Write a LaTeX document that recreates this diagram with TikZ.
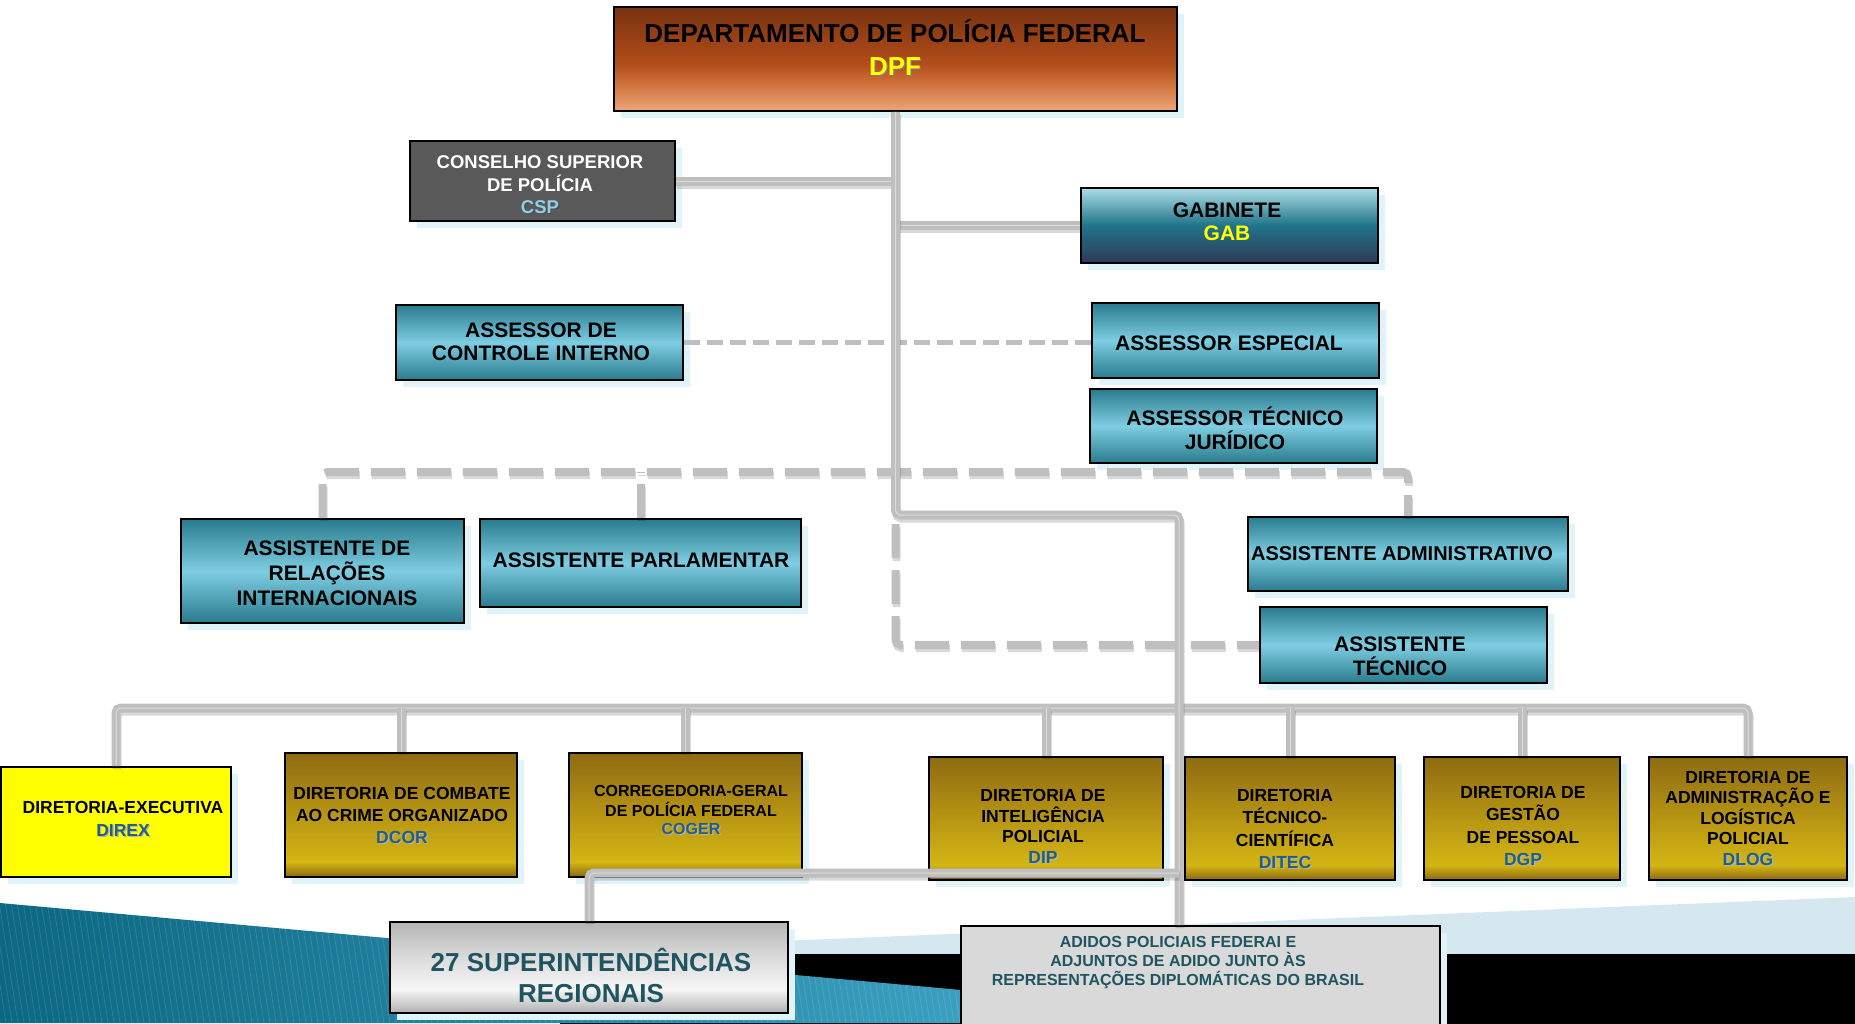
\documentclass[tikz,border=0pt]{standalone}
\usepackage{fontspec}
\setmainfont{Liberation Sans}
\definecolor{tealD}{HTML}{2A7B8E}
\definecolor{tealL}{HTML}{7ECDE2}
\definecolor{shadowc}{HTML}{DFF3F8}
\definecolor{connc}{HTML}{BFBFBF}
\definecolor{acr}{HTML}{24607E}
\definecolor{suptxt}{HTML}{1E5560}
\definecolor{cspgray}{HTML}{595959}
\definecolor{csptxt}{HTML}{8FD0E6}
\definecolor{lightbg}{HTML}{D5E8EF}
\definecolor{tealbgL}{HTML}{0B6782}
\definecolor{tealbgR}{HTML}{4DB4D8}
\definecolor{adbox}{HTML}{D9D9D9}
\definecolor{yel}{HTML}{FFFF00}
\definecolor{gA}{HTML}{8A6810}
\definecolor{gB}{HTML}{D3B514}
\definecolor{gC}{HTML}{C4A314}
\definecolor{gD}{HTML}{8E6B12}
\definecolor{gabA}{HTML}{2E3A58}
\definecolor{gabB}{HTML}{1F7489}
\definecolor{gabC}{HTML}{ADDDE8}
\definecolor{dpfA}{HTML}{EEA57A}
\definecolor{dpfB}{HTML}{D47A45}
\definecolor{dpfC}{HTML}{B24C1A}
\definecolor{dpfD}{HTML}{773310}
\definecolor{supA}{HTML}{B0B0B0}
\definecolor{supB}{HTML}{F6F6F6}
\definecolor{supC}{HTML}{DCDCDC}
\definecolor{supD}{HTML}{B5B5B5}
\pgfdeclareverticalshading{goldsh}{100bp}{color(0bp)=(gA); color(25bp)=(gA); color(31bp)=(gB); color(42bp)=(gC); color(75bp)=(gD); color(100bp)=(gD)}
\pgfdeclareverticalshading{gabsh}{100bp}{color(0bp)=(gabA); color(25bp)=(gabA); color(50bp)=(gabB); color(75bp)=(gabC); color(100bp)=(gabC)}
\pgfdeclareverticalshading{dpfsh}{100bp}{color(0bp)=(dpfA); color(25bp)=(dpfA); color(36bp)=(dpfB); color(48bp)=(dpfC); color(75bp)=(dpfD); color(100bp)=(dpfD)}
\pgfdeclareverticalshading{supsh}{100bp}{color(0bp)=(supA); color(25bp)=(supA); color(38bp)=(supB); color(55bp)=(supC); color(75bp)=(supD); color(100bp)=(supD)}
\newcommand\fs[1]{\fontsize{#1}{#1}\selectfont}
\newcommand\shd[3]{{\color{#2}\rlap{\kern1.3pt\raisebox{-1.3pt}{#3}}}{\color{#1}#3}}
\newcommand\obox[6]{%
  \fill[shadowc] ({#2+7},{#3+7}) rectangle ({#4+7},{#5+7});
  \node[#6, minimum width={(#4)-(#2)}, minimum height={(#5)-(#3)}] (#1) at ({(#2+#4)/2},{(#3+#5)/2}) {};
}
\tikzset{
  box/.style={draw=black, line width=1.8pt, inner sep=0pt},
  tealbox/.style={box, top color=tealD, bottom color=tealD, middle color=tealL},
  goldbox/.style={box, shade, shading=goldsh},
  txt/.style={anchor=base, inner sep=0pt, align=center},
  conn/.style={draw=connc, line width=9pt, rounded corners=5pt,
    preaction={draw=black, draw opacity=0.15, line width=9pt, transform canvas={shift={(1pt,-3pt)}}},
    postaction={draw=white, draw opacity=0.45, line width=1pt}},
  dconn/.style={draw=connc, line width=8pt, rounded corners=5pt, dash pattern=on 34pt off 12pt,
    preaction={draw=black, draw opacity=0.15, line width=8pt, dash pattern=on 34pt off 12pt, transform canvas={shift={(1pt,-3pt)}}}},
  fconn/.style={draw=connc, line width=5pt, dash pattern=on 16pt off 7pt},
}
\begin{document}
\begin{tikzpicture}[x=1pt,y=-1pt]
\useasboundingbox (0,0) rectangle (1855,1023);
\clip (0,0) rectangle (1855,1023);
% background
\fill[white] (0,0) rectangle (1855,1023);
\fill[lightbg] (560,950) -- (1855,897) -- (1855,956) -- (560,956) -- cycle;
\fill[black] (560,954) rectangle (1855,1024);
\shade[left color=tealbgL, right color=tealbgR] (0,903) -- (1326,1023) -- (0,1023) -- cycle;
\begin{scope}
  \clip (0,903) -- (1326,1023) -- (0,1023) -- cycle;
  \foreach \i in {0,6,...,1340} \draw[white, opacity=0.12, line width=0.8pt] (\i-20,895) -- (\i,1023);
\end{scope}

% boxes
\obox{dpf}{614}{7}{1177}{111}{box, shade, shading=dpfsh}
\obox{csp}{410}{141}{675}{221}{box, fill=cspgray}
\obox{gab}{1081}{188}{1378}{263}{box, shade, shading=gabsh}
\obox{aci}{396}{305}{683}{380}{tealbox}
\obox{ae}{1092}{303}{1379}{378}{tealbox}
\obox{atj}{1090}{389}{1377}{463}{tealbox}
\obox{ari}{181}{519}{464}{623}{tealbox}
\obox{apar}{480}{519}{801}{607}{tealbox}
\obox{aadm}{1248}{517}{1568}{591}{tealbox}
\obox{atec}{1260}{607}{1547}{683}{tealbox}
\obox{direx}{1}{767}{231}{877}{box, fill=yel}
\obox{dcor}{285}{753}{517}{877}{goldbox}
\obox{coger}{569}{753}{802}{877}{goldbox}
\obox{dip}{929}{757}{1163}{880}{goldbox}
\obox{ditec}{1185}{757}{1395}{880}{goldbox}
\obox{dgp}{1424}{757}{1620}{880}{goldbox}
\obox{dlog}{1649}{757}{1847}{880}{goldbox}
\obox{sup}{390}{922}{788}{1013}{box, shade, shading=supsh}
\obox{adidos}{961}{926}{1440}{1040}{box, fill=adbox}

% connectors
\coordinate (kA) at (1179,515);
\coordinate (kB) at (895.5,524);
\coordinate (kC) at (1179,873);
\coordinate (bus2) at (0,472);
\coordinate (bus3) at (0,708);
\draw[conn] (csp.east) -- (csp.east -| dpf.south);
\draw[conn] (gab.west) -- (gab.west -| dpf.south);
\draw[fconn] (aci.east) -- (aci.east -| ae.west);
\draw[dconn] (ari.north) |- (bus2 -| aadm.north) -- (aadm.north);
\draw[dconn] (apar.north) -- (apar.north |- bus2);
\draw[dconn] (kB) |- (atec.west);
\draw[conn] (direx.north) |- (bus3 -| dlog.north) -- (dlog.north);
\foreach \n in {dcor,coger,dip,ditec,dgp} \draw[conn] (\n.north) -- (\n.north |- bus3);
\draw[conn] (dpf.south) |- (kA) -- (kA |- adidos.north);
\draw[conn] (sup.north) |- (kC);

% texts
\node[txt, font=\bfseries\fs{26}] (t1) at (895,42) {DEPARTAMENTO DE POLÍCIA FEDERAL};
\node[txt, font=\bfseries\fs{26}] (t2) at (895,75) {\shd{yel}{gray}{DPF}};
\node[txt, font=\bfseries\fs{18.5}, text=white] (t3) at (540,168.6) {CONSELHO SUPERIOR};
\node[txt, font=\bfseries\fs{18.5}, text=white] (t4) at (540,191.6) {DE POLÍCIA};
\node[txt, font=\bfseries\fs{18.5}] (t5) at (540,213.6) {\shd{csptxt}{black!70}{CSP}};
\node[txt, font=\bfseries\fs{21}] (t6) at (1227,217.5) {GABINETE};
\node[txt, font=\bfseries\fs{21}, text=yel] (t7) at (1227,240.5) {GAB};
\node[txt, font=\bfseries\fs{21}] (t8) at (541,337.5) {ASSESSOR DE};
\node[txt, font=\bfseries\fs{21}] (t9) at (541,360.5) {CONTROLE INTERNO};
\node[txt, font=\bfseries\fs{21}] (t10) at (1229,350.5) {ASSESSOR ESPECIAL};
\node[txt, font=\bfseries\fs{21}] (t11) at (1235,425.5) {ASSESSOR TÉCNICO};
\node[txt, font=\bfseries\fs{21}] (t12) at (1235,449.5) {JURÍDICO};
\node[txt, font=\bfseries\fs{21}] (t13) at (327,555.5) {ASSISTENTE DE};
\node[txt, font=\bfseries\fs{21}] (t14) at (327,580.5) {RELAÇÕES};
\node[txt, font=\bfseries\fs{21}] (t15) at (327,605.5) {INTERNACIONAIS};
\node[txt, font=\bfseries\fs{21}] (t16) at (641,567.5) {ASSISTENTE PARLAMENTAR};
\node[txt, font=\bfseries\fs{20}] (t17) at (1402,560) {ASSISTENTE ADMINISTRATIVO};
\node[txt, font=\bfseries\fs{21}] (t18) at (1400,651.5) {ASSISTENTE};
\node[txt, font=\bfseries\fs{21}] (t19) at (1400,675.5) {TÉCNICO};
% directorates
\node[txt, font=\bfseries\fs{17.5}] (t20) at (123,813) {DIRETORIA-EXECUTIVA};
\node[txt, font=\bfseries\fs{17.5}] (t21) at (123,836) {\shd{acr}{black!30}{DIREX}};
\node[txt, font=\bfseries\fs{17.5}] (t22) at (402,799) {DIRETORIA DE COMBATE};
\node[txt, font=\bfseries\fs{17.5}] (t23) at (402,821) {AO CRIME ORGANIZADO};
\node[txt, font=\bfseries\fs{17.5}] (t24) at (402,843) {\shd{acr}{black!30}{DCOR}};
\node[txt, font=\bfseries\fs{16}] (t25) at (691,796) {CORREGEDORIA-GERAL};
\node[txt, font=\bfseries\fs{16}] (t26) at (691,816) {DE POLÍCIA FEDERAL};
\node[txt, font=\bfseries\fs{16}] (t27) at (691,834) {\shd{acr}{black!30}{COGER}};
\node[txt, font=\bfseries\fs{17.5}] (t28) at (1043,801) {DIRETORIA DE};
\node[txt, font=\bfseries\fs{17.5}] (t29) at (1043,822) {INTELIGÊNCIA};
\node[txt, font=\bfseries\fs{17.5}] (t30) at (1043,842) {POLICIAL};
\node[txt, font=\bfseries\fs{17.5}] (t31) at (1043,863) {\shd{acr}{black!30}{DIP}};
\node[txt, font=\bfseries\fs{17.5}] (t32) at (1285,801) {DIRETORIA};
\node[txt, font=\bfseries\fs{17.5}] (t33) at (1285,823) {TÉCNICO-};
\node[txt, font=\bfseries\fs{17.5}] (t34) at (1285,846) {CIENTÍFICA};
\node[txt, font=\bfseries\fs{17.5}] (t35) at (1285,868) {\shd{acr}{black!30}{DITEC}};
\node[txt, font=\bfseries\fs{17.5}] (t36) at (1523,798) {DIRETORIA DE};
\node[txt, font=\bfseries\fs{17.5}] (t37) at (1523,820) {GESTÃO};
\node[txt, font=\bfseries\fs{17.5}] (t38) at (1523,843) {DE PESSOAL};
\node[txt, font=\bfseries\fs{17.5}] (t39) at (1523,865) {\shd{acr}{black!30}{DGP}};
\node[txt, font=\bfseries\fs{17.5}] (t40) at (1748,783) {DIRETORIA DE};
\node[txt, font=\bfseries\fs{17.5}] (t41) at (1748,803) {ADMINISTRAÇÃO E};
\node[txt, font=\bfseries\fs{17.5}] (t42) at (1748,824) {LOGÍSTICA};
\node[txt, font=\bfseries\fs{17.5}] (t43) at (1748,844) {POLICIAL};
\node[txt, font=\bfseries\fs{17.5}] (t44) at (1748,865) {\shd{acr}{black!30}{DLOG}};
% bottom
\node[txt, font=\bfseries\fs{26}, text=suptxt] (t45) at (591,971) {27 SUPERINTENDÊNCIAS};
\node[txt, font=\bfseries\fs{26}, text=suptxt] (t46) at (591,1002) {REGIONAIS};
\node[txt, font=\bfseries\fs{16}, text=suptxt] (t47) at (1178,947) {ADIDOS POLICIAIS FEDERAI E};
\node[txt, font=\bfseries\fs{16}, text=suptxt] (t48) at (1178,966) {ADJUNTOS DE ADIDO JUNTO ÀS};
\node[txt, font=\bfseries\fs{16}, text=suptxt] (t49) at (1178,985) {REPRESENTAÇÕES DIPLOMÁTICAS DO BRASIL};
\end{tikzpicture}
\end{document}
